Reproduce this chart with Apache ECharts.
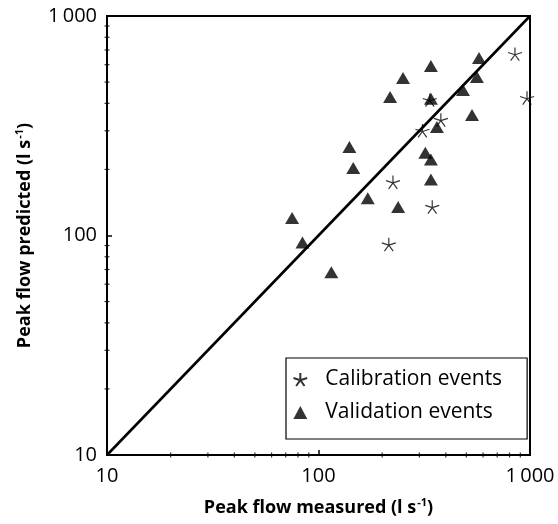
<!DOCTYPE html>
<html>
<head>
<meta charset="utf-8">
<script src="https://cdn.jsdelivr.net/npm/echarts@6/dist/echarts.min.js"></script>
<style>
  html, body { margin: 0; padding: 0; background: #fff; }
  #chart { width: 558px; height: 524px; }
</style>
</head>
<body>
<div id="chart"></div>
<script>
// Peak flow, measured vs predicted (l s-1)
const calibration = [
  [215, 91], [225, 175], [310, 300], [336, 414], [345, 135],
  [379, 336], [849, 671], [968, 423]
];
const validation = [
  [75, 120], [84, 93], [115, 68], [140, 253], [146, 203],
  [171, 148], [218, 427], [238, 135], [251, 522], [320, 238],
  [340, 222], [340, 180], [340, 592], [340, 420], [363, 312],
  [482, 460], [532, 354], [561, 527], [574, 644]
];
const majorTicks = [10, 100, 1000];
const minorTicks = [20, 30, 40, 50, 60, 70, 80, 90, 200, 300, 400, 500, 600, 700, 800, 900];
const equalityLine = [[10, 10], [1000, 1000]];

const FONT = '"Open Sans", "Noto Sans", sans-serif';
const STAR = 'path://M0,0L0,-10M0,0L9.51,-3.09M0,0L-9.51,-3.09M0,0L5.88,8.09M0,0L-5.88,8.09';

const tickLabel = v => (v === 1000 ? '1\u2009000' : String(v));

const chart = echarts.init(document.getElementById('chart'), null, { renderer: 'canvas' });

const axisCommon = {
  type: 'log',
  logBase: 10,
  min: 10,
  max: 1000,
  axisLine: { show: true, lineStyle: { color: '#000', width: 2 } },
  axisTick: { show: true, inside: true, length: 5, lineStyle: { color: '#000', width: 1.5 } },
  splitLine: { show: false },
  minorTick: { show: false },
  axisLabel: {
    color: '#000', fontFamily: FONT, fontSize: 20,
    formatter: tickLabel, showMinLabel: true, showMaxLabel: true
  },
  nameLocation: 'middle',
  nameTextStyle: {
    rich: {
      t: { fontFamily: FONT, fontSize: 18, fontWeight: 'bold', color: '#000' },
      s: { fontFamily: FONT, fontSize: 11, fontWeight: 'bold', color: '#000', verticalAlign: 'top', padding: [0, 0, 10, 1] }
    }
  }
};

chart.setOption({
  animation: false,
  backgroundColor: '#fff',
  grid: {
    left: 107, right: 28, top: 16, bottom: 69,
    show: true, borderColor: '#000', borderWidth: 2, backgroundColor: 'transparent'
  },
  xAxis: Object.assign({}, axisCommon, {
    name: '{t|Peak flow measured (l s}{s|-1}{t|)}',
    nameGap: 42,
    axisLabel: Object.assign({}, axisCommon.axisLabel, { margin: 11 })
  }),
  yAxis: Object.assign({}, axisCommon, {
    name: '{t|Peak flow predicted (l s}{s|-1}{t|)}',
    nameGap: 72,
    nameRotate: 90,
    axisLabel: Object.assign({}, axisCommon.axisLabel, { margin: 10 })
  }),
  legend: {
    data: ['Calibration events', 'Validation events'],
    orient: 'vertical',
    left: 286,
    top: 358,
    padding: [10, 25, 15, 5],
    itemGap: 10,
    itemWidth: 14,
    itemHeight: 13,
    borderColor: '#000',
    borderWidth: 1.2,
    borderRadius: 0,
    backgroundColor: '#fff',
    textStyle: { fontFamily: FONT, fontSize: 21, color: '#000', lineHeight: 23, padding: [0, 0, 0, 13] }
  },
  series: [
    {
      name: 'equality',
      type: 'line',
      data: equalityLine,
      symbol: 'none',
      lineStyle: { color: '#000', width: 2.6 },
      silent: true,
      z: 1
    },
    {
      name: 'xMinor',
      type: 'scatter',
      data: minorTicks.map(v => [v, 10]),
      symbol: 'rect',
      symbolSize: [1.2, 5],
      itemStyle: { color: '#000' },
      clip: false,
      silent: true
    },
    {
      name: 'yMinor',
      type: 'scatter',
      data: minorTicks.map(v => [10, v]),
      symbol: 'rect',
      symbolSize: [5, 1.2],
      itemStyle: { color: '#000' },
      clip: false,
      silent: true
    },
    {
      name: 'Validation events',
      type: 'scatter',
      data: validation,
      symbol: 'triangle',
      symbolSize: [14, 12],
      itemStyle: { color: '#000' },
      z: 3
    },
    {
      name: 'Calibration events',
      type: 'scatter',
      data: calibration,
      symbol: STAR,
      symbolKeepAspect: true,
      symbolSize: 14,
      itemStyle: { color: 'none', borderColor: '#000', borderWidth: 1.2 },
      z: 4
    }
  ]
});
</script>
</body>
</html>
